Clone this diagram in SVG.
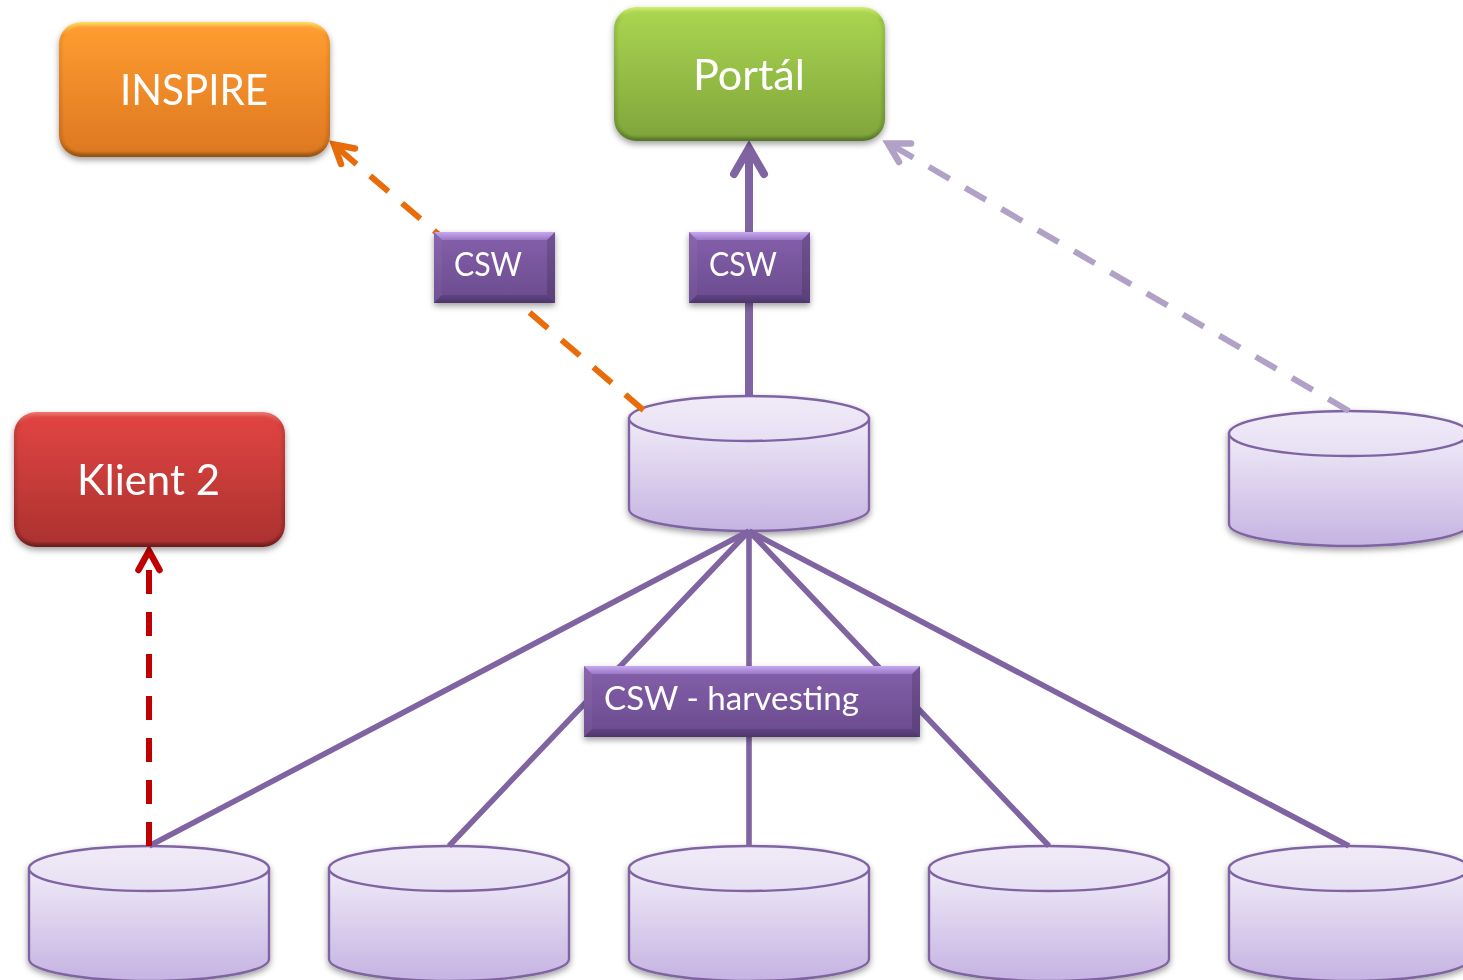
<svg xmlns="http://www.w3.org/2000/svg" width="1463" height="980" viewBox="0 0 1463 980">
<style>
.lbl{font-family:Lato,"Liberation Sans",sans-serif;fill:#fff}
.big{font-size:42px}.small{font-size:33px}
.cyl{fill:url(#cylG);stroke:#8064a2;stroke-width:2.4}
.top{fill:url(#cylT);stroke:#8064a2;stroke-width:2.4}
.c{fill:none;stroke:#8064a2}
.thin{stroke-width:5.600}
.dash{stroke-dasharray:24 18;stroke-width:6;fill:none}
.head{stroke-width:6.500;stroke-linecap:round;stroke-linejoin:miter;fill:none}
.in{filter:url(#soft)}
.bt{fill:url(#pT)}.bb{fill:url(#pB)}.bl{fill:#fff;fill-opacity:.04}.br{fill:#000;fill-opacity:.14}.bm{fill:url(#pM)}
</style>
<defs>
<linearGradient id="cylG" x1="0" y1="0" x2="0" y2="1"><stop offset="0" stop-color="#f0ebf8"/><stop offset="1" stop-color="#c5b3e2"/></linearGradient>
<linearGradient id="cylT" x1="0" y1="0" x2="0" y2="1"><stop offset="0" stop-color="#f0ebf8"/><stop offset="1" stop-color="#e7dff3"/></linearGradient>
<linearGradient id="orgE" x1="0" y1="0" x2="0" y2="1"><stop offset="0" stop-color="#ffdc62"/><stop offset=".1" stop-color="#f0902a"/><stop offset=".9" stop-color="#c66a1c"/><stop offset="1" stop-color="#8f5212"/></linearGradient>
<linearGradient id="orgM" x1="0" y1="0" x2="0" y2="1"><stop offset="0" stop-color="#ff9c30"/><stop offset="1" stop-color="#de7822"/></linearGradient>
<linearGradient id="grnE" x1="0" y1="0" x2="0" y2="1"><stop offset="0" stop-color="#d0ee70"/><stop offset=".1" stop-color="#96c044"/><stop offset=".9" stop-color="#6f9232"/><stop offset="1" stop-color="#56752a"/></linearGradient>
<linearGradient id="grnM" x1="0" y1="0" x2="0" y2="1"><stop offset="0" stop-color="#a9d550"/><stop offset="1" stop-color="#80a63b"/></linearGradient>
<linearGradient id="redE" x1="0" y1="0" x2="0" y2="1"><stop offset="0" stop-color="#f07570"/><stop offset=".1" stop-color="#c83c3a"/><stop offset=".9" stop-color="#96282a"/><stop offset="1" stop-color="#6e1e1e"/></linearGradient>
<linearGradient id="redM" x1="0" y1="0" x2="0" y2="1"><stop offset="0" stop-color="#e04441"/><stop offset="1" stop-color="#ac3230"/></linearGradient>
<linearGradient id="pM" x1="0" y1="0" x2="0" y2="1"><stop offset="0" stop-color="#8560ab"/><stop offset="1" stop-color="#6a4b8e"/></linearGradient>
<linearGradient id="pT" x1="0" y1="0" x2="0" y2="1"><stop offset="0" stop-color="#c8a8f0"/><stop offset="1" stop-color="#9878c4"/></linearGradient>
<linearGradient id="pB" x1="0" y1="0" x2="0" y2="1"><stop offset="0" stop-color="#5f4384"/><stop offset="1" stop-color="#4e3568"/></linearGradient>
<filter id="sh" x="-10%" y="-10%" width="120%" height="130%"><feDropShadow dx="0" dy="3" stdDeviation="3" flood-color="#000" flood-opacity=".38"/></filter>
<filter id="soft" x="-5%" y="-5%" width="110%" height="110%"><feGaussianBlur stdDeviation="1.6"/></filter>
<g id="cyl"><path class="cyl" d="M0 22.500V113C0 125 54 135 120 135S240 125 240 113V22.500Z"/><ellipse class="top" cx="120" cy="22.500" rx="120" ry="22.500"/></g>
</defs>
<rect width="1463" height="980" fill="#fff"/>
<g id="db-main" filter="url(#sh)"><use href="#cyl" x="629" y="396"/></g>
<g id="db-right" filter="url(#sh)"><use href="#cyl" x="1229" y="411"/></g>
<g id="db-1" filter="url(#sh)"><use href="#cyl" x="29" y="846"/></g>
<g id="db-2" filter="url(#sh)"><use href="#cyl" x="329" y="846"/></g>
<g id="db-3" filter="url(#sh)"><use href="#cyl" x="629" y="846"/></g>
<g id="db-4" filter="url(#sh)"><use href="#cyl" x="929" y="846"/></g>
<g id="db-5" filter="url(#sh)"><use href="#cyl" x="1229" y="846"/></g>
<g id="connectors">
<path class="c" stroke-width="8" d="M749 396V150"/>
<path class="c" stroke-width="8" stroke-linecap="round" d="M734 174L749 148L764 174"/>
<path class="c thin" d="M749 531L149 846M749 531L449 846M749 531V846M749 531L1049 846M749 531L1349 846"/>
<path class="dash" stroke="#e96c0a" d="M643.500 410.200L333 144"/>
<path class="head" stroke="#e96c0a" d="M355 148.500L334 144.500L341 164"/>
<path class="dash" stroke="#b2a1c7" d="M1349 411L888 143"/>
<path class="head" stroke="#b2a1c7" d="M911 143.500L888 143.500L899 162"/>
<path class="dash" stroke="#c00000" d="M149 846V570"/>
<path class="head" stroke="#c00000" d="M138.500 570L149 551L159.500 570"/>
</g>
<g id="inspire" filter="url(#sh)"><rect x="59" y="22" width="271" height="135" rx="22" fill="url(#orgE)"/><rect class="in" x="62" y="26" width="265" height="127" rx="19" fill="url(#orgM)"/><text class="lbl big" x="120" y="105" textLength="148" lengthAdjust="spacingAndGlyphs">INSPIRE</text></g>
<g id="portal" filter="url(#sh)"><rect x="614" y="7" width="271" height="134" rx="22" fill="url(#grnE)"/><rect class="in" x="617" y="11" width="265" height="126" rx="19" fill="url(#grnM)"/><text class="lbl big" x="693" y="90" textLength="112" lengthAdjust="spacingAndGlyphs">Portál</text></g>
<g id="klient2" filter="url(#sh)"><rect x="14" y="412" width="271" height="135" rx="22" fill="url(#redE)"/><rect class="in" x="17" y="416" width="265" height="127" rx="19" fill="url(#redM)"/><text class="lbl big" x="77" y="495" textLength="143" lengthAdjust="spacingAndGlyphs">Klient 2</text></g>
<g id="csw1" filter="url(#sh)"><rect class="bm" x="434" y="232" width="121" height="71"/><path class="bl" d="M434 232l8 8v55l-8 8z"/><path class="br" d="M555 232l-8 8v55l8 8z"/><path class="bt" d="M434 232l8 8h105l8-8z"/><path class="bb" d="M434 303l8-8h105l8 8z"/><text class="lbl small" x="454" y="276" textLength="68" lengthAdjust="spacingAndGlyphs">CSW</text></g>
<g id="csw2" filter="url(#sh)"><rect class="bm" x="689" y="232" width="121" height="71"/><path class="bl" d="M689 232l8 8v55l-8 8z"/><path class="br" d="M810 232l-8 8v55l8 8z"/><path class="bt" d="M689 232l8 8h105l8-8z"/><path class="bb" d="M689 303l8-8h105l8 8z"/><text class="lbl small" x="709" y="276" textLength="68" lengthAdjust="spacingAndGlyphs">CSW</text></g>
<g id="harvesting" filter="url(#sh)"><rect class="bm" x="584" y="666" width="336" height="71"/><path class="bl" d="M584 666l8 8v55l-8 8z"/><path class="br" d="M920 666l-8 8v55l8 8z"/><path class="bt" d="M584 666l8 8h320l8-8z"/><path class="bb" d="M584 737l8-8h320l8 8z"/><text class="lbl small" x="604" y="710" textLength="255" lengthAdjust="spacingAndGlyphs">CSW - harvesting</text></g>
</svg>
